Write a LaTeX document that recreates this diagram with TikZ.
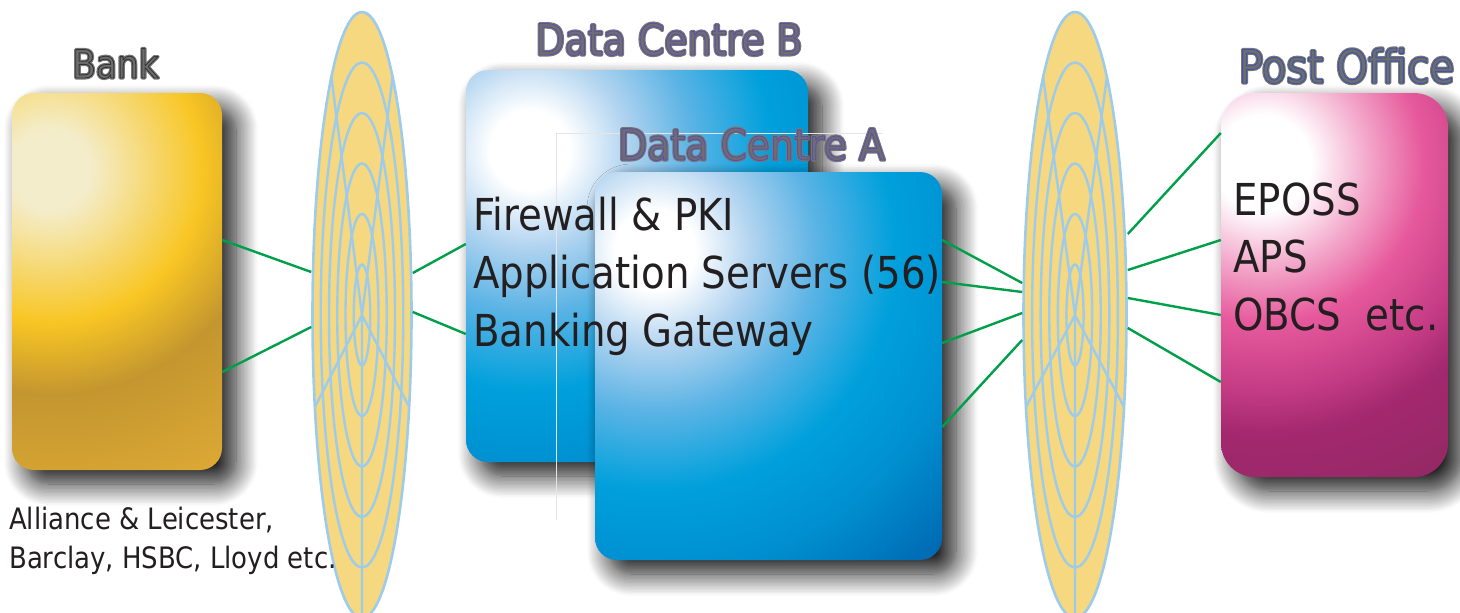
\documentclass[tikz,border=0pt]{standalone}
\usepackage{fontspec}
\setmainfont{DejaVu Sans}[FakeStretch=0.88]
\usetikzlibrary{shapes.geometric,shadows.blur}

\definecolor{netfill}{HTML}{F5D87F}
\definecolor{netline}{HTML}{9CCBEC}
\definecolor{linkgreen}{HTML}{00A04A}
\definecolor{ink}{HTML}{231F20}
\definecolor{headgrey}{HTML}{6E6E6E}
\definecolor{bankcream}{HTML}{F4EDCB}
\definecolor{bankgold}{HTML}{F8C624}
\definecolor{bankdeep}{HTML}{C4962F}
\definecolor{banklow}{HTML}{DBA834}
\definecolor{dclight}{HTML}{B2D4F0}
\definecolor{dcmid}{HTML}{5DB4E5}
\definecolor{dccyan}{HTML}{00A0DC}
\definecolor{dcblue}{HTML}{008FD0}
\definecolor{dcdeep}{HTML}{0062AD}
\definecolor{postpale}{HTML}{F3A9CB}
\definecolor{posthot}{HTML}{E6599C}
\definecolor{postmid}{HTML}{C63D86}
\definecolor{postdeep}{HTML}{A3286F}
\definecolor{postlow}{HTML}{8C2A5E}

\pgfdeclareradialshading{bankglow}{\pgfpointorigin}{color(0bp)=(bankcream); color(2.5bp)=(bankcream); color(9.5bp)=(bankgold); color(14bp)=(bankdeep); color(21bp)=(banklow); color(50bp)=(banklow)}
\pgfdeclareradialshading{dcglow}{\pgfpointorigin}{color(0bp)=(white); color(2.5bp)=(white); color(6bp)=(dclight); color(10bp)=(dcmid); color(15bp)=(dccyan); color(20bp)=(dcblue); color(27bp)=(dcdeep); color(50bp)=(dcdeep)}
\pgfdeclareradialshading{postglow}{\pgfpointorigin}{color(0bp)=(white); color(3bp)=(white); color(6.5bp)=(postpale); color(10bp)=(posthot); color(14bp)=(postmid); color(17bp)=(postdeep); color(25bp)=(postlow); color(50bp)=(postlow)}

% grey halo, then a thin coloured outline round the letters
\newcommand\haloword[2]{\leavevmode\rlap{\special{pdf:literal direct 0.47 0.47 0.47 RG 3.2 w 1 j 2 Tr}#2\special{pdf:literal direct 0 Tr}}\special{pdf:literal direct #1 RG 0.9 w 1 j 2 Tr}#2\special{pdf:literal direct 0 Tr}}

\newcommand\netweb[2]{%
  \foreach \k in {1,...,5} \draw[web] (#1.center) ellipse [x radius={#2*\k/6}, y radius={303*\k/6}];
  \draw[web] (#1.south) -- (#1.center) -- ++({-0.953*#2},92) (#1.center) -- ++({0.953*#2},92) (#1.center) -- ++({-0.619*#2},-238) (#1.center) -- ++({0.619*#2},-238);
}

\begin{document}
\begin{tikzpicture}[x=1pt, y=-1pt, every node/.style={inner sep=0pt},
  box/.style={rectangle, rounded corners=22pt, blur shadow={shadow xshift=14pt, shadow yshift=-14pt, shadow blur radius=22pt, shadow opacity=92, shadow blur steps=16}},
  glow/.style 2 args={path picture={\shade[shading=#1] ([shift={#2}]path picture bounding box.north west) ++(-400,-400) rectangle ++(800,800);}},
  net/.style={ellipse, draw=netline, fill=netfill, line width=2.6pt, minimum width=#1, minimum height=606pt},
  web/.style={draw=netline, line width=2.4pt},
  link/.style={draw=linkgreen, line width=2.4pt},
  frameline/.style={draw=white!80!gray, line width=0.8pt},
  head/.style={anchor=base, text=headgrey},
  body/.style={anchor=base west, align=left, text=ink}]
\useasboundingbox (0,0) rectangle (1460,613);

\node[box, glow={bankglow}{(38,77)}, minimum width=210pt, minimum height=377pt] (bank) at (117,281.5) {};
\node[net=99pt] (lnet) at (362,315) {};
\netweb{lnet}{49.5}
\node[box, glow={dcglow}{(64,80)}, minimum width=342pt, minimum height=392pt] (dcb) at (637,266) {};
\draw[frameline] (883,133) -- (556,133) -- (556,520);
\node[box, glow={dcglow}{(60,78)}, minimum width=347pt, minimum height=388pt] (dca) at (768.5,366) {};
\node[net=103pt] (rnet) at (1075,315) {};
\netweb{rnet}{51.5}
\node[box, rounded corners=34pt, glow={postglow}{(42,70)}, minimum width=227pt, minimum height=384pt] (post) at (1334.5,285) {};

\draw[link] (bank.east |- 0,240) -- (lnet.west |- 0,272); \draw[link] (bank.east |- 0,372) -- (lnet.west |- 0,327);
\draw[link] (lnet.east |- 0,273) -- (dcb.west |- 0,244); \draw[link] (lnet.east |- 0,312) -- (dcb.west |- 0,334);
\draw[link] (dca.east |- 0,240) -- (rnet.west |- 0,283); \draw[link] (dca.east |- 0,282) -- (rnet.west |- 0,292);
\draw[link] (dca.east |- 0,343) -- (rnet.west |- 0,313); \draw[link] (dca.east |- 0,427) -- (rnet.west |- 0,340);
\draw[link] (rnet.east |- 0,234) -- (post.west |- 0,133); \draw[link] (rnet.east |- 0,270) -- (post.west |- 0,240);
\draw[link] (rnet.east |- 0,298) -- (post.west |- 0,315); \draw[link] (rnet.east |- 0,328) -- (post.west |- 0,382);

\node[head, font=\fontsize{39}{39}\selectfont] (bankname) at (115.5,78) {\haloword{0.2 0.2 0.2}{Bank}};
\node[head, font=\fontsize{43}{43}\selectfont] (dcbname) at (669,55) {\haloword{0.36 0.31 0.66}{Data Centre B}};
\node[head, font=\fontsize{43}{43}\selectfont] (dcaname) at (751.5,160) {\haloword{0.36 0.31 0.66}{Data Centre A}};
\node[head, font=\fontsize{46}{46}\selectfont] (postname) at (1346.5,83) {\haloword{0.23 0.33 0.66}{Post Office}};

\node[body, font=\fontsize{44}{58}\selectfont] (dctext) at (473,346) {Firewall \& PKI\\Application Servers (56)\\Banking Gateway};
\node[body, font=\fontsize{44}{57.5}\selectfont] (posttext) at (1233,330) {EPOSS\\APS\\OBCS\ \ etc.};
\node[body, font=\fontsize{29.5}{39}\selectfont] (banknote) at (9,568) {Alliance \& Leicester,\\Barclay, HSBC, Lloyd etc.};
\end{tikzpicture}
\end{document}
